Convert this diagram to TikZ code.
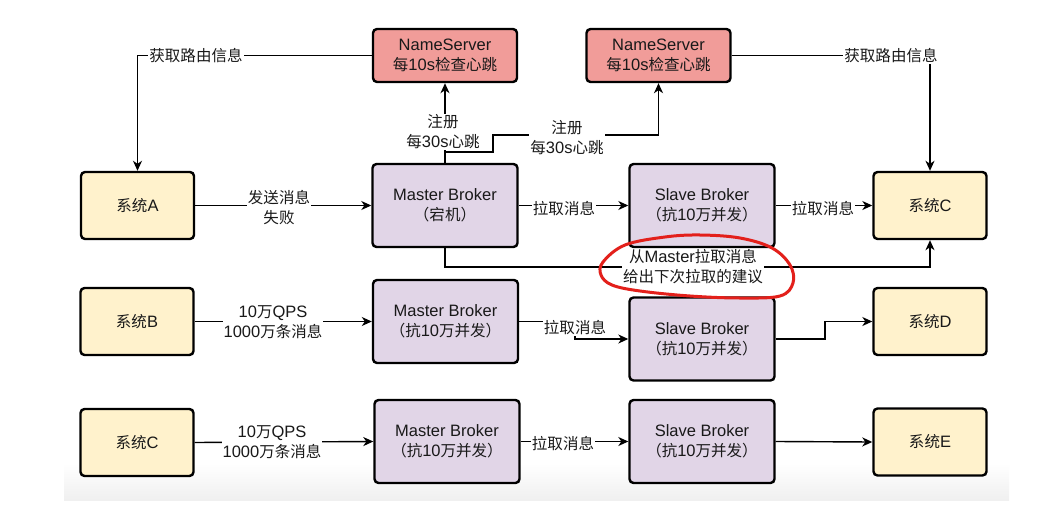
\documentclass[tikz,border=0pt]{standalone}
\usepackage{fontspec}
\setmainfont{Liberation Sans}
\newfontfamily\cjk[Scale=0.94]{Noto Sans CJK SC}
\newcommand\zh[1]{{\cjk #1}}
\usetikzlibrary{arrows.meta,calc}
\definecolor{nsred}{HTML}{F19C99}
\definecolor{brkpurple}{HTML}{E1D5E7}
\definecolor{sysyellow}{HTML}{FFF2CC}
\definecolor{markred}{HTML}{E3201B}
\tikzset{
  box/.style={draw=black, line width=2.4pt, rounded corners=4pt, align=center, inner sep=0pt},
  nsbox/.style={box, fill=nsred, minimum width=144pt, minimum height=53pt},
  sysbox/.style={box, fill=sysyellow, minimum width=113pt, minimum height=67pt},
  brkbox/.style={box, fill=brkpurple, minimum width=145pt, minimum height=83pt},
  conn/.style={line width=1.4pt, -{Stealth[length=10pt,width=9pt,inset=3pt]}},
  lbl/.style={fill=white, inner sep=1pt, align=center},
  every node/.style={font=\fontsize{16.5}{20}\selectfont, text=black!90}
}
\begin{document}
\begin{tikzpicture}[x=1pt,y=-1pt]
\useasboundingbox (0,0) rectangle (1055,519);
\fill[white] (0,0) rectangle (1055,519);
\shade[top color=white, bottom color=black!6] (64,463) rectangle (1009,500);

% nodes
\node[nsbox] (ns1) at (445,55.5) {NameServer\\\zh{每}10s\zh{检查心跳}};
\node[nsbox] (ns2) at (658.5,55.5) {NameServer\\\zh{每}10s\zh{检查心跳}};

\node[sysbox] (sysA) at (137.5,205.5) {\zh{系统}A};
\node[brkbox] (m1) at (445,205.5) {Master Broker\\\zh{（宕机）}};
\node[brkbox] (s1) at (702,205.5) {Slave Broker\\\zh{（抗}10\zh{万并发）}};
\node[sysbox] (sysC1) at (930,205.5) {\zh{系统}C};

\node[sysbox] (sysB) at (137,321.5) {\zh{系统}B};
\node[brkbox] (m2) at (445.5,321.5) {Master Broker\\\zh{（抗}10\zh{万并发）}};
\node[brkbox] (s2) at (702,339) {Slave Broker\\\zh{（抗}10\zh{万并发）}};
\node[sysbox] (sysD) at (930,321.5) {\zh{系统}D};

\node[sysbox] (sysC2) at (137,442.5) {\zh{系统}C};
\node[brkbox] (m3) at (447,441.5) {Master Broker\\\zh{（抗}10\zh{万并发）}};
\node[brkbox] (s3) at (702,441.5) {Slave Broker\\\zh{（抗}10\zh{万并发）}};
\node[sysbox] (sysE) at (930,442) {\zh{系统}E};

% helper coordinates
\coordinate (r1) at (493,152);
\coordinate (r2) at (493,135);
\coordinate (j) at (0,267);
\coordinate (k1) at (575,0);
\coordinate (k2) at (825,0);

% connectors
\draw[conn] (ns1.west) -| (sysA.north);
\draw[conn] (ns2.east) -| (sysC1.north);
\draw[conn] (m1.north) -- (ns1.south);
\draw[conn] (m1.north) |- (r1) -- (r2) -| (ns2.south);
\draw[conn] (sysA.east) -- (m1.west);
\draw[conn] (m1.east) -- (s1.west);
\draw[conn] (s1.east) -- (sysC1.west);
\draw[conn] (m1.south) -- (m1.south |- j) -- (j -| sysC1.south) -- (sysC1.south);

\draw[conn] (sysB.east) -- (m2.west);
\draw[conn] (m2.east) -- (m2.east -| k1) -- (s2.west -| k1) -- (s2.west);
\draw[conn] (s2.east) -- (s2.east -| k2) -- (sysD.west -| k2) -- (sysD.west);

\draw[conn] (sysC2.east) -- (m3.west);
\draw[conn] (m3.east) -- (s3.west);
\draw[conn] (s3.east) -- (sysE.west);

% labels
\node[lbl] (l1) at (196,55.5) {\zh{获取路由信息}};
\node[lbl] (l2) at (891,56) {\zh{获取路由信息}};
\node[lbl] (l3) at (443,132) {\zh{注册}\\\zh{每}30s\zh{心跳}};
\node[lbl] (l4) at (567,138) {\zh{注册}\\\zh{每}30s\zh{心跳}};
\node[lbl] (l5) at (279,208) {\zh{发送消息}\\\zh{失败}};
\node[lbl] (l6) at (564,209) {\zh{拉取消息}};
\node[lbl] (l7) at (823,209) {\zh{拉取消息}};
\node[lbl] (l8) at (693,267) {\zh{从}Master\zh{拉取消息}\\\zh{给出下次拉取的建议}};
\node[lbl] (l9) at (273,322) {10\zh{万}QPS\\1000\zh{万条消息}};
\node[lbl] (l10) at (575,328) {\zh{拉取消息}};
\node[lbl] (l11) at (272,442) {10\zh{万}QPS\\1000\zh{万条消息}};
\node[lbl] (l12) at (563,444) {\zh{拉取消息}};

% red hand-drawn mark
\draw[markred, line width=3pt, line cap=round] plot[smooth cycle, tension=0.6] coordinates {
  (603,262) (625,245) (665,237) (700,235) (740,238) (772,248) (790,265)
  (793,283) (780,296) (740,298) (690,296) (640,291) (612,285) (601,275)};
\end{tikzpicture}
\end{document}
